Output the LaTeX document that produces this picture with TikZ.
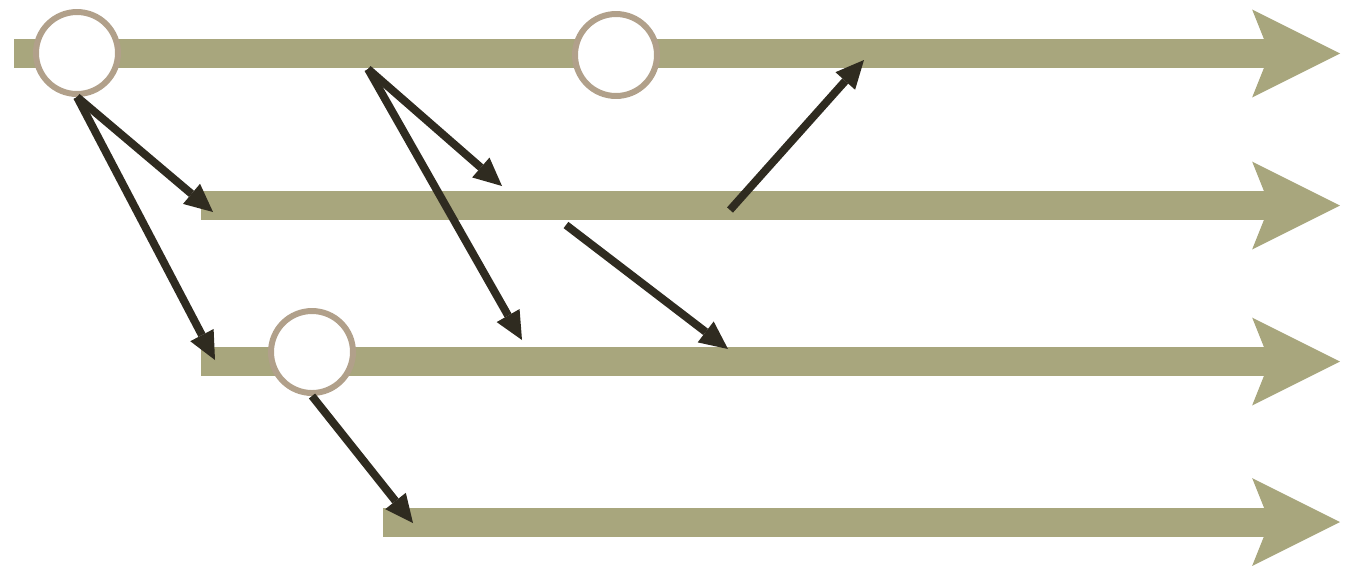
\documentclass[tikz,border=0pt]{standalone}
\usetikzlibrary{arrows.meta}
\definecolor{lanecol}{HTML}{A8A67D}
\definecolor{ringcol}{HTML}{B1A08A}
\definecolor{msgcol}{HTML}{2F2B20}
\tikzset{
    tline/.style={draw=lanecol, line width=16.5pt,
        -{Stealth[length=50pt, width=50pt, inset=10pt, line width=0pt]}},
    event/.style={shape=circle, draw=ringcol, fill=white, line width=3.4pt,
        minimum size=1.64cm, inner sep=0pt},
    msg/.style={draw=msgcol, line width=4.5pt,
        -{Triangle[length=16pt, width=15pt, line width=0pt]}}}

\begin{document}
\begin{tikzpicture}[x=0.02cm, y=-0.02cm]

                \useasboundingbox (0,0) rectangle (1349,566);

                \coordinate (L1) at (14,53.5);
                \coordinate (R1) at (1340,53.5);
                \coordinate (L2) at (201,205.5);
                \coordinate (R2) at (1340,205.5);
                \coordinate (L3) at (201,361.5);
                \coordinate (R3) at (1340,361.5);
                \coordinate (L4) at (383,522);
                \coordinate (R4) at (1340,522);

                \draw[tline] (L1) -- (R1);
                \draw[tline] (L2) -- (R2);
                \draw[tline] (L3) -- (R3);
                \draw[tline] (L4) -- (R4);

                \node[event] (A) at (77,53) {};
                \node[event] (B) at (616,55) {};
                \node[event] (C) at (312,352) {};

                \coordinate (D) at (368,69);
                \coordinate (E) at (566,225);
                \coordinate (F) at (730,210);

                \coordinate (G) at (213,212);
                \coordinate (H) at (215,360);
                \coordinate (I) at (502,186);
                \coordinate (J) at (522,340);
                \coordinate (K) at (728,349);
                \coordinate (M) at (864,60);
                \coordinate (N) at (413,523);

                \draw[msg] (A.south) -- (G);
                \draw[msg] (A.south) -- (H);
                \draw[msg] (D) -- (I);
                \draw[msg] (D) -- (J);
                \draw[msg] (E) -- (K);
                \draw[msg] (F) -- (M);
                \draw[msg] (C.south) -- (N);

            \end{tikzpicture}
\end{document}
